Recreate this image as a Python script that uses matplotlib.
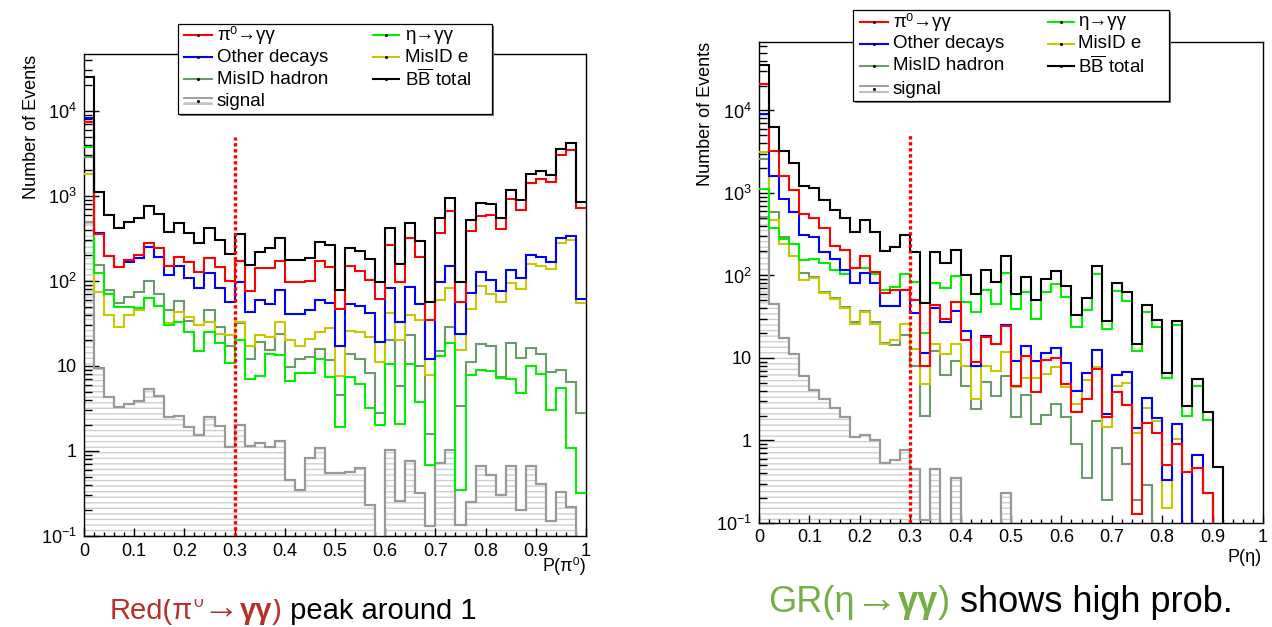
import numpy as np
import matplotlib
matplotlib.use("Agg")
import matplotlib.pyplot as plt
import matplotlib.ticker as mticker
from matplotlib.transforms import Affine2D, Bbox
from matplotlib.patches import Rectangle
from matplotlib.lines import Line2D

plt.rcParams['font.family'] = ['Liberation Sans', 'DejaVu Sans']
plt.rcParams['mathtext.fontset'] = 'custom'
plt.rcParams['mathtext.rm'] = 'Liberation Sans'
plt.rcParams['mathtext.it'] = 'Liberation Sans:italic'
plt.rcParams['mathtext.bf'] = 'Liberation Sans:bold'
plt.rcParams['hatch.linewidth'] = 1.0

# ---------------- data ----------------
bin_edges = np.linspace(0.0, 1.0, 51)
cut_value = 0.3
cut_top = 5000

# Left panel: P(pi0)
pi0_L = [7500, 357, 197, 147, 177, 203, 283, 242, 150, 193, 169, 126, 186, 145, 100, 173, 77, 142, 142, 173,
         98, 96, 100, 173, 147, 47, 148, 132, 103, 61, 268, 96, 324, 194, 35, 370, 670, 56, 390, 582,
         605, 409, 910, 690, 1410, 1580, 1450, 3000, 3490, 730]
other_L = [8300, 370, 198, 145, 169, 188, 253, 193, 117, 151, 107, 82, 125, 83, 56, 96, 43, 59, 54, 78,
           41, 41, 46, 60, 55, 17, 53, 51, 42, 19, 83, 33, 85, 54, 12, 96, 148, 24, 72, 126,
           103, 76, 135, 107, 204, 193, 166, 318, 338, 61]
eta_L = [3800, 125, 71, 49, 49, 48, 63, 51, 30, 33, 25, 15, 25, 18.5, 10.7, 20, 7, 7.6, 14, 13.6,
         6.6, 8.3, 8.3, 12, 7.5, 1.9, 7.5, 6.1, 3.2, 2.0, 10.5, 2.1, 10.5, 3.8, 0.68, 13, 18.5, 0.35, 7.8, 9,
         8.8, 7.2, 7, 4.8, 10, 8.1, 3.0, 5.5, 1.07, 0.32]
hadron_L = [2900, 154, 78, 55, 64, 74, 100, 71, 46, 58, 34, 30, 45, 29, 17, 32, 12, 19, 15.5, 24,
            9.6, 12, 12.9, 16, 11.8, 4.5, 13.8, 12, 8.2, 2.8, 20, 5.8, 23, 10, 1.57, 15, 29, 3.4, 11.2, 18,
            17, 7.5, 18.6, 12.3, 16.4, 14, 8.5, 9, 6.5, 2.8]
misid_e_L = [1800, 74, 40, 29, 40, 45, 63, 51, 32, 43, 38, 30, 33, 24, 23, 33, 17, 23, 22, 33,
             20, 17, 21, 25, 28, 7.6, 26, 25, 22, 11, 42, 20, 40, 35, 7.8, 60, 83, 15.5, 47, 87,
             70, 56, 94, 81, 158, 151, 137, 276, 302, 55]
total_L = [25000, 1100, 600, 417, 490, 555, 760, 610, 377, 480, 365, 283, 425, 303, 209, 355, 155, 218, 245, 318,
           178, 178, 187, 288, 262, 78, 247, 227, 179, 96, 425, 157, 478, 296, 57, 545, 935, 98, 522, 832,
           805, 556, 1170, 895, 1830, 1950, 1780, 3570, 4150, 850]
signal_L = [500, 9.4, 4.3, 3.3, 3.6, 3.9, 5.4, 4.4, 2.5, 2.6, 1.9, 1.55, 2.5, 1.95, 1.12, 2.0, 1.15, 1.23, 1.12, 1.32,
            0.45, 0.35, 0.82, 1.07, 0.55, 0.55, 0.56, 0.63, 0.23, 0, 1.02, 0.26, 0.76, 0.32, 0.13, 0.72, 1.02, 0.135, 0.25, 0.66,
            0.52, 0.30, 0.66, 0.20, 0.66, 0.41, 0.15, 0.33, 0.22, 0]

# Right panel: P(eta)
pi0_R = [21000, 3250, 1610, 1100, 560, 494, 373, 230, 204, 122, 173, 111, 62, 67, 67, 50, 7.9, 44, 30, 48,
         16.5, 9, 18, 14.7, 24.5, 4.6, 10.6, 3.9, 9.5, 10, 4.9, 2.2, 3.2, 7.3, 1.94, 3.9, 2.7, 0.13, 1.64, 1.24,
         0.51, 0.91, 0.41, 0.46, 0.23, 0, 0, 0, 0, 0]
other_R = [9000, 1610, 850, 587, 309, 290, 194, 157, 117, 82, 106, 80, 43, 43, 67, 35, 11.5, 40, 27.5, 37,
           21, 8.1, 18.5, 14.7, 25, 9.2, 14, 9.2, 11.5, 13.2, 8.8, 4.0, 6.6, 12.6, 2.1, 6.3, 6.7, 1.4, 3.3, 1.86,
           0.33, 1.58, 0, 0.66, 0.23, 0, 0, 0, 0, 0]
eta_R = [1120, 380, 280, 240, 154, 158, 141, 117, 103, 122, 122, 104, 67, 73, 103, 83, 20, 80, 70, 98,
         48, 36, 67, 45, 106, 39, 63, 30, 63, 78, 55, 23.6, 38, 103, 22.6, 65, 49, 12, 36, 24,
         5.8, 25, 2.0, 4.6, 1.76, 0.48, 0, 0, 0, 0]
hadron_R = [2600, 585, 290, 240, 107, 95, 63, 53, 41, 27, 37, 27, 15, 14.3, 19, 7.9, 2.0, 12.3, 6.2, 9.3,
            4.6, 2.4, 5.1, 3.5, 6.0, 1.9, 3.6, 1.58, 2.04, 2.75, 1.95, 0.91, 0.35, 1.74, 0.19, 0.80, 0.52, 0.19, 0.29, 0,
            0, 0, 0, 0, 0, 0, 0, 0, 0, 0]
misid_e_R = [3100, 475, 240, 170, 89, 93, 61, 52, 40, 26, 36, 26, 14.6, 16.3, 26, 13, 4.8, 14.6, 11.3, 14.7,
             8.1, 3.2, 7.9, 6.9, 11.7, 4.4, 5.8, 5.7, 6.4, 7.7, 4.5, 2.8, 5.4, 7.7, 1.45, 4.6, 5.0, 1.23, 2.45, 1.74,
             0.15, 1.04, 0, 0.47, 0.23, 0, 0, 0, 0, 0]
total_R = [36000, 6330, 3250, 2330, 1210, 1140, 822, 621, 500, 340, 470, 340, 199, 219, 309, 190, 46, 190, 143, 204,
           101, 60, 116, 83, 173, 59, 97, 50, 91, 112, 75, 33, 54, 131, 28, 80, 63, 14.7, 44, 29,
           6.6, 28, 2.6, 5.5, 2.2, 0.48, 0, 0, 0, 0]
signal_R = [515, 45, 17.3, 11.2, 6.1, 4.1, 3.2, 2.45, 1.94, 1.1, 1.17, 1.02, 0.53, 0.58, 0.76, 0.45, 0.11, 0.45, 0, 0.35,
            0, 0, 0, 0, 0.23, 0, 0, 0, 0, 0, 0, 0, 0, 0, 0, 0, 0, 0, 0, 0,
            0, 0, 0, 0, 0, 0, 0, 0, 0, 0]

legend_labels = ['π⁰→γγ', 'Other decays', 'MisID hadron', 'signal',
                 'η→γγ', 'MisID e', r'B$\mathrm{\overline{B}}$ total']

C_PI0, C_OTHER, C_HAD, C_ETA, C_E, C_TOT, C_SIG = ('#ff0000', '#0000ff', '#6b9b6b', '#00ee00',
                                                  '#c8c800', '#000000', '#999999')

# ---------------- figure ----------------
W, H = 1272, 627
fig = plt.figure(figsize=(W / 100, H / 100), dpi=100)
px = Affine2D().scale(1.0 / W, -1.0 / H).translate(0, 1) + fig.transFigure


def ytick_fmt(v, pos):
    e = int(round(np.log10(v)))
    if e == 0:
        return '1'
    if e == 1:
        return '10'
    return r'$10^{%d}$' % e


def floor(v):
    v = np.asarray(v, dtype=float)
    return np.where(v > 0, v, 1e-4)


def panel(box, series, signal, ymax, xlab, xlab_xy, ylab_xy, xpad):
    x0, y0, x1, y1 = box
    ax = fig.add_axes([x0 / W, 1 - y1 / H, (x1 - x0) / W, (y1 - y0) / H])
    ax.set_yscale('log')
    sv = floor(signal)
    ax.stairs(sv, bin_edges, baseline=1e-4, fill=True, facecolor='none',
              edgecolor='#cfcfcf', hatch='---', lw=0, zorder=1)
    ax.stairs(sv, bin_edges, baseline=None, color=C_SIG, lw=1.6, zorder=2)
    for vals, col in series:
        ax.stairs(floor(vals), bin_edges, baseline=None, color=col, lw=1.5, zorder=3)
    ax.plot([cut_value, cut_value], [0.1, cut_top], color='#ff0000', lw=2.4,
            ls=(0, (1.0, 0.8)), zorder=4)
    ax.set_xlim(0, 1)
    ax.set_ylim(0.1, ymax)
    ax.xaxis.set_major_locator(mticker.MultipleLocator(0.1))
    ax.xaxis.set_minor_locator(mticker.MultipleLocator(0.02))
    ax.xaxis.set_major_formatter(mticker.FuncFormatter(lambda v, p: '%g' % round(v, 2)))
    ax.yaxis.set_major_locator(mticker.LogLocator(base=10, numticks=20))
    ax.yaxis.set_minor_locator(mticker.LogLocator(base=10, subs=np.arange(2, 10), numticks=20))
    ax.yaxis.set_major_formatter(mticker.FuncFormatter(ytick_fmt))
    ax.yaxis.set_minor_formatter(mticker.NullFormatter())
    ax.tick_params(axis='both', which='both', direction='in', top=False, right=False,
                   labelsize=13, width=1.0, color='black')
    ax.tick_params(axis='y', which='major', length=11, pad=5)
    ax.tick_params(axis='y', which='minor', length=5.5)
    ax.tick_params(axis='x', which='major', length=6, pad=xpad)
    ax.tick_params(axis='x', which='minor', length=3)
    for s in ax.spines.values():
        s.set_linewidth(1.0)
        s.set_color('black')
    fig.text(xlab_xy[0], xlab_xy[1], xlab, transform=px, ha='right', va='center', fontsize=13)
    fig.text(ylab_xy[0], ylab_xy[1], 'Number of Events', transform=px, rotation=90,
             ha='center', va='top', fontsize=13)
    return ax


panel((84, 54, 586, 536),
      [(hadron_L, C_HAD), (misid_e_L, C_E), (eta_L, C_ETA), (other_L, C_OTHER), (pi0_L, C_PI0), (total_L, C_TOT)],
      signal_L, 10 ** 4.67, 'P(π⁰)', (586, 566), (32, 55), 5)
panel((759, 42, 1263, 523),
      [(hadron_R, C_HAD), (misid_e_R, C_E), (eta_R, C_ETA), (other_R, C_OTHER), (pi0_R, C_PI0), (total_R, C_TOT)],
      signal_R, 10 ** 4.83, 'P(η)', (1262, 557), (706, 42), 4.5)


def legend(box, rows, c1, c2):
    x0, y0, x1, y1 = box
    fig.add_artist(Rectangle((x0 + 2, y0 + 2), x1 - x0, y1 - y0, transform=px,
                             facecolor='#777777', edgecolor='none', zorder=10))
    fig.add_artist(Rectangle((x0, y0), x1 - x0, y1 - y0, transform=px,
                             facecolor='white', edgecolor='black', lw=0.9, zorder=11))
    cols1 = [C_PI0, C_OTHER, C_HAD, C_SIG]
    cols2 = [C_ETA, C_E, C_TOT]
    for i, lab in enumerate(legend_labels):
        if i < 4:
            hx0, hx1, tx, col, y = c1[0], c1[1], c1[2], cols1[i], rows[i]
        else:
            hx0, hx1, tx, col, y = c2[0], c2[1], c2[2], cols2[i - 4], rows[i - 4]
        if i == 3:
            fig.add_artist(Rectangle((hx0, y - 4), hx1 - hx0, 8, transform=px, facecolor='none',
                                     edgecolor='#d0d0d0', hatch='---', lw=0, zorder=12))
            fig.add_artist(Line2D([hx0, hx1], [y - 3, y - 3], transform=px, color=C_SIG, lw=1.3, zorder=12))
            fig.add_artist(Line2D([hx0, hx1], [y + 3, y + 3], transform=px, color='#bbbbbb', lw=1.3, zorder=12))
        else:
            fig.add_artist(Line2D([hx0, hx1], [y, y], transform=px, color=col, lw=1.5, zorder=12))
        fig.add_artist(Line2D([(hx0 + hx1) / 2], [y], transform=px, color='black', marker='o',
                              markersize=1.2, lw=0, zorder=13))
        fig.text(tx, y, lab, transform=px, ha='left', va='center', fontsize=13.5, zorder=13)


legend((178, 24, 492, 114), [35, 57, 79, 101], (184, 212, 217), (373, 399, 405))
legend((853, 10, 1169, 101), [22, 44, 66, 89], (860, 888, 893), (1048, 1074, 1078))

# ---------------- captions ----------------
renderer = fig.canvas.get_renderer()


def rich(parts, x, y, size, clip_top=None):
    for s, col, wt, dy, scale in parts:
        t = fig.text(x, y - dy, s, transform=px, color=col, fontsize=size * scale,
                     fontweight=wt, ha='left', va='baseline')
        if clip_top is not None:
            t.set_clip_box(Bbox([[0, 0], [W, H - clip_top]]))
            t.set_clip_on(True)
        x += t.get_window_extent(renderer=renderer).width


RED_T, GREEN_T = '#b7312a', '#77ad45'
rich([('Red(π', RED_T, 'normal', 0, 1.0), ('0', RED_T, 'normal', 12, 0.6), ('→', RED_T, 'bold', 0, 1.25),
      ('γγ', RED_T, 'bold', 0, 1.0), (')', RED_T, 'normal', 0, 1.0), ('\u00a0peak around 1', 'black', 'normal', 0, 1.0)],
     110, 619, 21, clip_top=599)
rich([('GR(η', GREEN_T, 'normal', 0, 1.0), ('→', GREEN_T, 'bold', 0, 1.2), ('γγ', GREEN_T, 'bold', 0, 1.0),
      (')', GREEN_T, 'normal', 0, 1.0), ('\u00a0shows high prob.', 'black', 'normal', 0, 1.0)],
     768, 612, 26)

fig.savefig('out.png', dpi=100)
